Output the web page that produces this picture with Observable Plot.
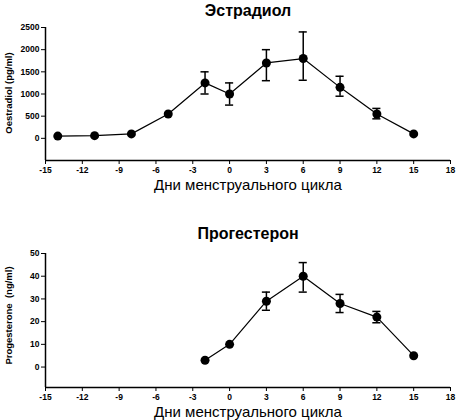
<!DOCTYPE html>
<html>
<head>
<meta charset="utf-8">
<script src="https://cdn.jsdelivr.net/npm/d3@7"></script>
<script src="https://cdn.jsdelivr.net/npm/@observablehq/plot@0.6"></script>
<style>
  body { margin: 0; background: white; }
</style>
</head>
<body>
<div id="chart"></div>
<script>
// Эстрадиол
const estDays = [-14, -11, -8, -5, -2, 0, 3, 6, 9, 12, 15]
const estMean = [50, 60, 100, 550, 1250, 1000, 1700, 1800, 1150, 550, 100]
const estLow  = [null, null, null, null, 1000, 750, 1300, 1310, 950, 440, null]
const estHigh = [null, null, null, null, 1500, 1250, 2000, 2400, 1400, 675, null]

// Прогестерон
const progDays = [-2, 0, 3, 6, 9, 12, 15]
const progMean = [3, 10, 29, 40, 28, 22, 5]
const progLow  = [null, null, 25, 33, 24, 19.5, null]
const progHigh = [null, null, 33, 46, 32, 24.5, null]

const xTicks = [-15, -12, -9, -6, -3, 0, 3, 6, 9, 12, 15, 18]
const estTicks = [0, 500, 1000, 1500, 2000, 2500]
const progTicks = [0, 10, 20, 30, 40, 50]
const xLabel = 'Дни менструального цикла'

function rows(days, mean, low, high) {
  return days.map((d, i) => ({ day: d, mean: mean[i], low: low[i], high: high[i] }))
}

function panel(o) {
  const data = rows(o.days, o.mean, o.low, o.high)
  const bars = data.filter(d => d.low != null)
  return Plot.plot({
    width: 457,
    height: 210,
    marginLeft: 45,
    marginRight: 7,
    marginTop: o.marginTop,
    marginBottom: o.marginBottom,
    x: { domain: [-15, 18] },
    y: { domain: o.yDomain },
    marks: [
      Plot.axisX({ ticks: xTicks, tickFormat: d => String(d), tickSize: 4, tickPadding: 2, label: null, fontWeight: 'bold', fontSize: 8.5 }),
      Plot.axisY({ ticks: o.yTicks, tickFormat: d => String(d), tickSize: 4, tickPadding: 2, label: null, fontWeight: 'bold', fontSize: 8.5 }),
      Plot.ruleX([-15], { strokeWidth: 1.5 }),
      Plot.ruleY([o.yDomain[0]], { strokeWidth: 1.5 }),
      // error bars with caps
      Plot.ruleX(bars, { x: 'day', y1: 'low', y2: 'high', strokeWidth: 1.5 }),
      Plot.ruleY(bars, { y: 'low', x1: d => d.day - 0.33, x2: d => d.day + 0.33, strokeWidth: 1.5 }),
      Plot.ruleY(bars, { y: 'high', x1: d => d.day - 0.33, x2: d => d.day + 0.33, strokeWidth: 1.5 }),
      Plot.line(data, { x: 'day', y: 'mean', stroke: 'black', strokeWidth: 1.2 }),
      Plot.dot(data, { x: 'day', y: 'mean', fill: 'black', r: 4.5 }),
      Plot.text([o.title], { frameAnchor: 'top', lineAnchor: 'middle', dy: o.titleDy, fontSize: 16, fontWeight: 'bold' }),
      Plot.text([xLabel], { frameAnchor: 'bottom', lineAnchor: 'middle', dy: 25, fontSize: 15, fontWeight: 'normal' }),
      Plot.text([o.yLabel], { frameAnchor: 'left', textAnchor: 'middle', lineAnchor: 'middle', dx: -37, dy: o.labelDy, rotate: -90, fontSize: 9.5, fontWeight: 'bold' }),
    ],
    style: {
      fontFamily: '"Liberation Sans", Arial, sans-serif',
      fontSize: '8.5px',
      fontWeight: 'bold',
      color: 'black',
      background: 'white',
    },
  })
}

const estChart = panel({
  days: estDays, mean: estMean, low: estLow, high: estHigh,
  yDomain: [-500, 2500], yTicks: estTicks,
  marginTop: 27, marginBottom: 50, titleDy: -17, labelDy: -1,
  title: 'Эстрадиол', yLabel: 'Oestradiol (pg/ml)',
})
const progChart = panel({
  days: progDays, mean: progMean, low: progLow, high: progHigh,
  yDomain: [-9, 50], yTicks: progTicks,
  marginTop: 43, marginBottom: 33, titleDy: -20, labelDy: -5,
  title: 'Прогестерон', yLabel: 'Progesterone  (ng/ml)',
})

d3.select('#chart').append(() => estChart)
d3.select('#chart').append(() => progChart)
</script>
</body>
</html>
